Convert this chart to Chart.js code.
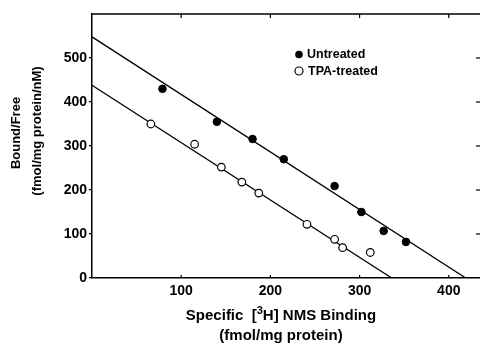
<!DOCTYPE html>
<html>
<head>
<meta charset="utf-8">
<script src="https://cdn.jsdelivr.net/npm/chart.js@4/dist/chart.umd.min.js"></script>
<style>
  body { margin: 0; background: #fff; }
  #wrap { width: 480px; height: 346px; position: relative; }
</style>
</head>
<body>
<div id="wrap"><canvas id="scatchard"></canvas></div>
<script>
// Scatchard plot data
let untreatedX = [79, 140, 180, 215, 272, 302, 327, 352];
let untreatedY = [430, 355, 316, 270, 209, 150, 107, 82];
let tpaX = [66, 115, 145, 168, 187, 241, 272, 281, 312];
let tpaY = [350, 304, 252, 218, 193, 122, 88, 69, 58];

// fitted lines: intercepts on the axes
let untreatedFitX = [0, 419];
let untreatedFitY = [548, 0];
let tpaFitX = [0, 336];
let tpaFitY = [438, 0];

let xTicks = [100, 200, 300, 400];
let yTicks = [0, 100, 200, 300, 400, 500];

function toPoints(xs, ys) {
    return xs.map((x, i) => ({ x: x, y: ys[i] }));
}

const font = "'Liberation Sans', Arial, sans-serif";

// draws a row of [text, size, yShift] pieces centred on cx
function drawPieces(ctx, pieces, cx, cy) {
    let widths = pieces.map(p => {
        ctx.font = "bold " + p[1] + "px " + font;
        return ctx.measureText(p[0]).width;
    });
    let total = widths.reduce((a, b) => a + b, 0);
    let x = cx - total / 2;
    ctx.textAlign = "left";
    pieces.forEach((p, i) => {
        ctx.font = "bold " + p[1] + "px " + font;
        ctx.fillText(p[0], x, cy + p[2]);
        x += widths[i];
    });
}

const framePlugin = {
    id: "frame",
    afterDraw(chart) {
        let ctx = chart.ctx;
        let area = chart.chartArea;
        let xs = chart.scales.x;
        let ys = chart.scales.y;
        ctx.save();
        ctx.strokeStyle = "#000";
        ctx.lineWidth = 1.5;
        // top border
        ctx.beginPath();
        ctx.moveTo(area.left, area.top);
        ctx.lineTo(area.right, area.top);
        ctx.stroke();
        // inward ticks on top and bottom
        ctx.lineWidth = 1.2;
        xTicks.forEach(v => {
            let px = xs.getPixelForValue(v);
            ctx.beginPath();
            ctx.moveTo(px, area.top);
            ctx.lineTo(px, area.top + 4);
            ctx.moveTo(px, area.bottom);
            ctx.lineTo(px, area.bottom - 3);
            ctx.stroke();
        });
        // inward ticks on the right
        yTicks.slice(1).forEach(v => {
            let py = ys.getPixelForValue(v);
            ctx.beginPath();
            ctx.moveTo(area.right, py);
            ctx.lineTo(area.right - 4, py);
            ctx.stroke();
        });

        // axis titles
        ctx.fillStyle = "#000";
        ctx.textBaseline = "middle";
        drawPieces(ctx, [["Specific  [", 15, 0], ["3", 11, -5], ["H] NMS Binding", 15, 0]], 281, 316);
        ctx.textAlign = "center";
        ctx.font = "bold 15px " + font;
        ctx.fillText("(fmol/mg protein)", 281, 336);
        ctx.font = "bold 13px " + font;
        ctx.save();
        ctx.translate(16, 133);
        ctx.rotate(-Math.PI / 2);
        ctx.fillText("Bound/Free", 0, 0);
        ctx.restore();
        ctx.save();
        ctx.translate(37, 131);
        ctx.rotate(-Math.PI / 2);
        ctx.fillText("(fmol/mg protein/nM)", 0, 0);
        ctx.restore();

        // legend
        let ds = chart.data.datasets;
        ctx.textAlign = "left";
        ctx.font = "bold 12.5px " + font;
        ctx.beginPath();
        ctx.arc(299, 54.5, 3.8, 0, Math.PI * 2);
        ctx.fill();
        ctx.fillText(ds[0].label, 307, 55);
        ctx.lineWidth = 1.2;
        ctx.beginPath();
        ctx.arc(299, 71, 4, 0, Math.PI * 2);
        ctx.stroke();
        ctx.fillText(ds[1].label, 308, 71.5);
        ctx.restore();
    }
};

let ctx = document.getElementById("scatchard").getContext("2d");
new Chart(ctx, {
    type: "scatter",
    data: {
        datasets: [
            {
                label: "Untreated",
                data: toPoints(untreatedX, untreatedY),
                backgroundColor: "#000",
                borderColor: "#000",
                pointRadius: 3.8,
                pointBorderWidth: 1
            },
            {
                label: "TPA-treated",
                data: toPoints(tpaX, tpaY),
                backgroundColor: "#fff",
                borderColor: "#000",
                pointRadius: 3.8,
                pointBorderWidth: 1.2
            },
            {
                label: "Untreated fit",
                type: "line",
                data: toPoints(untreatedFitX, untreatedFitY),
                borderColor: "#000",
                borderWidth: 1.3,
                pointRadius: 0,
                fill: false
            },
            {
                label: "TPA fit",
                type: "line",
                data: toPoints(tpaFitX, tpaFitY),
                borderColor: "#000",
                borderWidth: 1.3,
                pointRadius: 0,
                fill: false
            }
        ]
    },
    options: {
        responsive: true,
        maintainAspectRatio: false,
        animation: false,
        layout: { autoPadding: false, padding: { top: 14, right: 0, left: 0, bottom: 0 } },
        plugins: {
            legend: { display: false },
            tooltip: { enabled: false }
        },
        scales: {
            x: {
                type: "linear",
                min: 0,
                max: 435,
                afterFit: scale => { scale.height = 68; },
                afterBuildTicks: scale => { scale.ticks = xTicks.map(v => ({ value: v })); },
                ticks: {
                    color: "#000",
                    font: { family: font, size: 14, weight: "bold" },
                    padding: 5
                },
                grid: { display: false, drawTicks: false },
                border: { color: "#000", width: 1.5 }
            },
            y: {
                min: 0,
                max: 600,
                afterFit: scale => { scale.width = 92; },
                afterBuildTicks: scale => { scale.ticks = yTicks.map(v => ({ value: v })); },
                ticks: {
                    color: "#000",
                    font: { family: font, size: 14, weight: "bold" },
                    padding: 2
                },
                grid: { drawOnChartArea: false, drawTicks: true, tickLength: 3, color: "#000", lineWidth: 1.2 },
                border: { color: "#000", width: 1.5 }
            }
        }
    },
    plugins: [framePlugin]
});
</script>
</body>
</html>
